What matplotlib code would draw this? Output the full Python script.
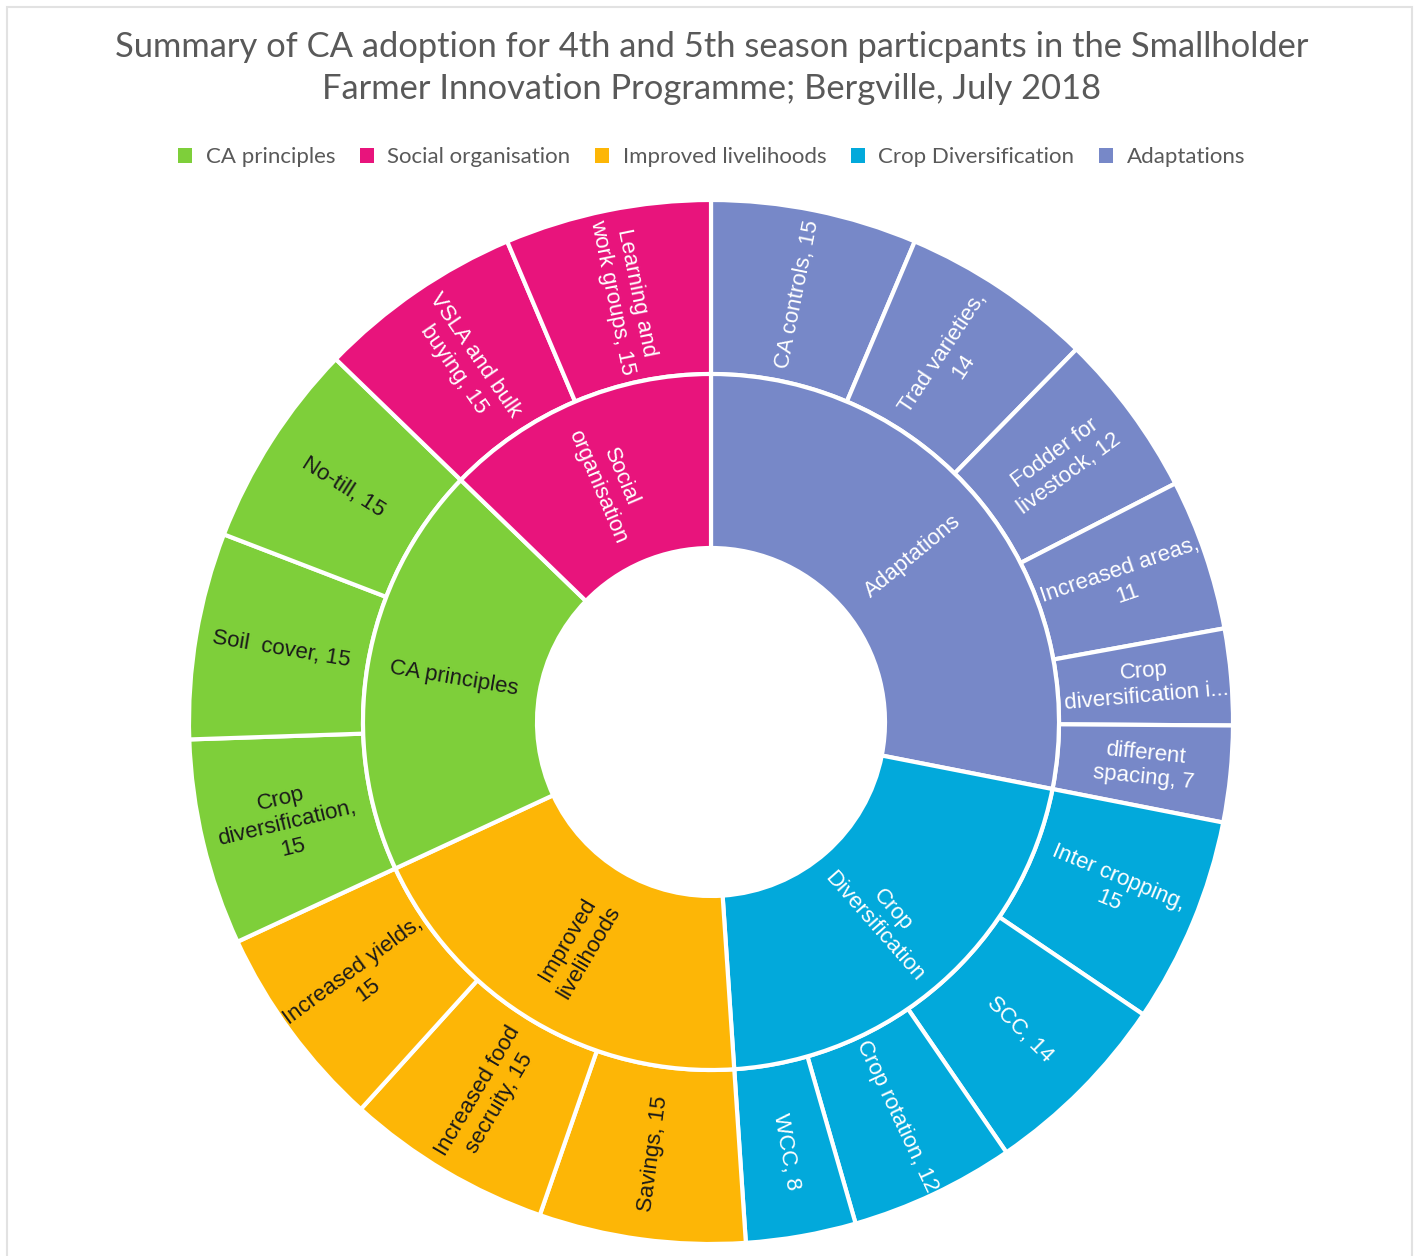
import numpy as np
import matplotlib
matplotlib.use("Agg")
import matplotlib.pyplot as plt
from matplotlib.patches import Patch, Rectangle

# ---- data (clockwise from 12 o'clock) ----
groups = ['Adaptations', 'Crop Diversification', 'Improved livelihoods',
          'CA principles', 'Social organisation']
group_labels = ['Adaptations', 'Crop\nDiversification', 'Improved\nlivelihoods',
                'CA principles', 'Social\norganisation']
group_colors = ['#7788C8', '#02A9DB', '#FDB606', '#7ECF3A', '#E8147C']

item_group = [0, 0, 0, 0, 0, 0, 1, 1, 1, 1, 2, 2, 2, 3, 3, 3, 4, 4]
item_labels = ['CA controls, 15', 'Trad varieties,\n14', 'Fodder for\nlivestock, 12',
               'Increased areas,\n11', 'Crop\ndiversification i...', 'different\nspacing, 7',
               'Inter cropping,\n15', 'SCC, 14', 'Crop rotation, 12', 'WCC, 8',
               'Savings, 15', 'Increased food\nsecruity, 15', 'Increased yields,\n15',
               'Crop\ndiversification,\n15', 'Soil  cover, 15', 'No-till, 15',
               'VSLA and bulk\nbuying, 15', 'Learning and\nwork groups, 15']
item_values = [15, 14, 12, 11, 7, 7, 15, 14, 12, 8, 15, 15, 15, 15, 15, 15, 15, 15]

legend_order = [3, 4, 2, 1, 0]
dark_text = {2, 3}

group_values = [sum(v for v, g in zip(item_values, item_group) if g == i)
                for i in range(len(groups))]

W, H = 1423, 1256
fig = plt.figure(figsize=(W / 100, H / 100), dpi=100)

# light frame of the chart area
fig.add_artist(Rectangle((7 / W, -0.01), (1412 - 7) / W, (H - 7) / H + 0.01,
                         transform=fig.transFigure, fill=False,
                         edgecolor='#e2e2e2', linewidth=1.5))

cx, cy, R = 711, 722, 522
ax = fig.add_axes([(cx - R) / W, (H - cy - R) / H, 2 * R / W, 2 * R / H])
ax.axis('off')

wp = dict(width=1 / 3, edgecolor='white', linewidth=3)
ax.pie(item_values, radius=1, colors=[group_colors[g] for g in item_group],
       startangle=90, counterclock=False, wedgeprops=wp, normalize=True)
ax.pie(group_values, radius=2 / 3, colors=group_colors,
       startangle=90, counterclock=False, wedgeprops=wp, normalize=True)
ax.set_xlim(-1, 1)
ax.set_ylim(-1, 1)
ax.set_aspect('auto')


def put_labels(values, labels, colors_dark, r, fs):
    total = sum(item_values)
    cum = np.cumsum([0] + list(values))
    for i, lab in enumerate(labels):
        mid = (cum[i] + cum[i + 1]) / 2 / total * 360
        th = np.deg2rad(90 - mid)
        rot = (90 - mid) % 360
        if 90 < rot <= 270:
            rot -= 180
        elif rot > 270:
            rot -= 360
        ax.text(r * np.cos(th), r * np.sin(th), lab, rotation=rot,
                rotation_mode='anchor', ha='center', va='center',
                fontsize=fs, family='Liberation Sans', linespacing=1.25,
                color='#1a1a1a' if colors_dark[i] else 'white')


put_labels(item_values, item_labels, [g in dark_text for g in item_group], 0.835, 16)
put_labels(group_values, group_labels, [i in dark_text for i in range(len(groups))], 0.5, 16)

fig.text(0.5, 1 - 68 / H,
         'Summary of CA adoption for 4th and 5th season particpants in the Smallholder\n'
         'Farmer Innovation Programme; Bergville, July 2018',
         ha='center', va='center', fontsize=24.8, color='#595959',
         family='Lato', linespacing=1.42)

handles = [Patch(facecolor=group_colors[i], edgecolor='none') for i in legend_order]
fig.legend(handles, [groups[i] for i in legend_order], loc='center',
           bbox_to_anchor=(0.5, 1 - 157 / H), ncol=5, frameon=False,
           labelcolor='#595959', handlelength=0.65, handleheight=0.65,
           handletextpad=0.6, columnspacing=1.1, prop={'family': 'Lato', 'size': 16})

fig.savefig('out.png', dpi=100)
